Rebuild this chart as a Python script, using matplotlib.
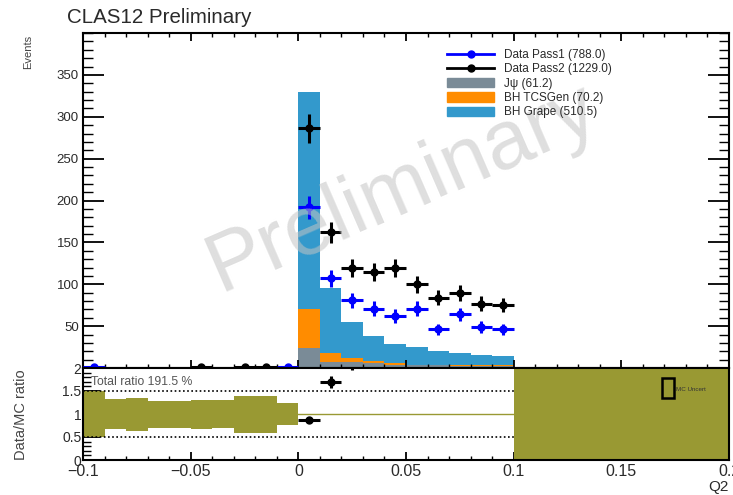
import numpy as np
import matplotlib
matplotlib.use("Agg")
import matplotlib.pyplot as plt
from matplotlib.lines import Line2D
from matplotlib.patches import Patch, Rectangle
from matplotlib.ticker import MultipleLocator, FixedLocator

plt.rcParams['font.family'] = ['Liberation Sans', 'DejaVu Sans']

# binning of Q2 (30 bins of 0.01 from -0.1 to 0.2)
bin_width = 0.01
bin_lo = np.round(np.arange(-0.1, 0.2 - 1e-9, bin_width), 3)
bin_mid = bin_lo + bin_width / 2

zeros10 = [0] * 10
# data counts per bin
pass1 = [1, 0, 0, 0, 0, 0, 0, 0, 0, 1,
         192, 107, 81, 71, 62, 71, 46, 64, 49, 46] + zeros10
pass2 = [0, 0, 0, 0, 0, 1, 0, 1, 1, 0,
         286, 162, 119, 115, 119, 100, 84, 90, 77, 75] + zeros10
# MC stack per bin
jpsi = zeros10 + [24, 7, 7, 5.5, 4, 3, 3, 2.8, 2.5, 2.4] + zeros10
tcsgen = zeros10 + [46, 11, 4.5, 2.5, 1.5, 1, 1, 1, 0.8, 0.7] + zeros10
grape = zeros10 + [260, 78, 44, 30.5, 23.5, 20.6, 16.6, 14, 12.5, 10.9] + zeros10

# MC uncertainty band in the ratio panel
band_lo = [0.5, 0.67, 0.63, 0.69, 0.69, 0.67, 0.69, 0.58, 0.58, 0.76] + [1] * 10 + [0] * 10
band_hi = [1.5, 1.32, 1.34, 1.29, 1.29, 1.30, 1.30, 1.40, 1.40, 1.23] + [1] * 10 + [2.2] * 10

legend_labels = ["Data Pass1 (788.0)", "Data Pass2 (1229.0)", "J\u03c8 (61.2)",
                 "BH TCSGen (70.2)", "BH Grape (510.5)"]
total_ratio = "Total ratio 191.5 %"

c_jpsi = '#7a8b97'
c_tcs = '#ff8c00'
c_grape = '#3399cc'
c_band = '#999933'
c_text = '#2a2a2a'

pass1 = np.array(pass1, float)
pass2 = np.array(pass2, float)
jpsi = np.array(jpsi, float)
tcsgen = np.array(tcsgen, float)
grape = np.array(grape, float)
mc = jpsi + tcsgen + grape

W, H = 733, 495
fig = plt.figure(figsize=(W / 100, H / 100), dpi=100)
x0, x1 = 83, 729
ax = fig.add_axes([x0 / W, 1 - 368 / H, (x1 - x0) / W, 335 / H])
axr = fig.add_axes([x0 / W, 1 - 460 / H, (x1 - x0) / W, 92 / H], sharex=ax)

# ---- main panel: stacked MC + data
ax.bar(bin_lo, jpsi, width=bin_width, align='edge', color=c_jpsi, lw=0, zorder=1)
ax.bar(bin_lo, tcsgen, width=bin_width, bottom=jpsi, align='edge', color=c_tcs, lw=0, zorder=1)
ax.bar(bin_lo, grape, width=bin_width, bottom=jpsi + tcsgen, align='edge', color=c_grape, lw=0, zorder=1)

for vals, col in [(pass1, 'blue'), (pass2, 'black')]:
    m = vals > 0
    ax.errorbar(bin_mid[m], vals[m], yerr=np.sqrt(vals[m]), xerr=bin_width / 2,
                fmt='o', ms=5, color=col, ecolor=col, elinewidth=2.2, capsize=0, zorder=3)

ax.text(-0.0365, 92, "Preliminary", fontsize=60, color='#c4c4c4', alpha=0.55,
        rotation=23.5, rotation_mode='anchor', ha='left', va='baseline', zorder=5)

ax.set_xlim(-0.1, 0.2)
ax.set_ylim(0, 400)
ax.yaxis.set_major_locator(FixedLocator([50, 100, 150, 200, 250, 300, 350]))
ax.yaxis.set_minor_locator(MultipleLocator(10))
ax.xaxis.set_major_locator(MultipleLocator(0.05))
ax.xaxis.set_minor_locator(MultipleLocator(0.01))
ax.tick_params(axis='both', which='both', direction='in', top=True, right=True,
               labelbottom=False, colors='black', labelcolor=c_text)
ax.tick_params(axis='y', which='major', length=15, width=1.3, labelsize=9.5, pad=3)
ax.tick_params(axis='y', which='minor', length=7.5, width=1)
ax.tick_params(axis='x', which='major', length=5.5, width=1.3)
ax.tick_params(axis='x', which='minor', length=3, width=1)
for s in ax.spines.values():
    s.set_linewidth(1.5)

handles = [
    Line2D([], [], color='blue', marker='o', ms=5, lw=2),
    Line2D([], [], color='black', marker='o', ms=5, lw=2),
    Patch(color=c_jpsi), Patch(color=c_tcs), Patch(color=c_grape),
]
fig.legend(handles, legend_labels, loc='upper left', bbox_to_anchor=(447 / W, 1 - 49 / H),
           frameon=False, fontsize=8.5, handlelength=4.0, handleheight=0.85,
           handletextpad=0.8, labelspacing=0.2, borderpad=0, borderaxespad=0,
           labelcolor=c_text)

# ---- ratio panel
axr.hlines(1, -0.1, 0.1, color=c_band, lw=1, zorder=1)
band_lo = np.array(band_lo)
band_hi = np.array(band_hi)
axr.bar(bin_lo, band_hi - band_lo, bottom=band_lo, width=bin_width, align='edge',
        color=c_band, lw=0, zorder=2)
axr.hlines([0.5, 1.5], -0.1, 0.1, color='black', lw=1.2, linestyles=(0, (1, 1.5)), zorder=3)

m = mc > 0
ratio = pass2[m] / mc[m]
rerr = np.sqrt(pass2[m]) / mc[m]
axr.errorbar(bin_mid[m], ratio, yerr=rerr, xerr=bin_width / 2, fmt='o', ms=5,
             color='black', elinewidth=2.2, capsize=0, zorder=4)

axr.text(-0.0965, 1.70, total_ratio, fontsize=8.8, color='#555555', ha='left', va='center', zorder=5)
axr.add_patch(Rectangle((0.896, 0.677), 0.0186, 0.214, transform=axr.transAxes,
                        facecolor=c_band, edgecolor='black', lw=1.8, zorder=6))
axr.text(0.918, 0.77, "MC Uncert", transform=axr.transAxes, fontsize=4.5,
         color='#333333', ha='left', va='center', zorder=6)

axr.set_ylim(0, 2)
axr.yaxis.set_major_locator(MultipleLocator(0.5))
axr.yaxis.set_minor_locator(MultipleLocator(0.1))
axr.yaxis.set_major_formatter(plt.FuncFormatter(lambda v, p: f"{v:g}"))
axr.xaxis.set_major_formatter(plt.FuncFormatter(lambda v, p: "0" if abs(v) < 1e-9 else f"{v:g}".replace('-', '\u2212')))
axr.tick_params(axis='both', which='both', direction='in', right=True, top=False,
                labelcolor=c_text)
axr.tick_params(axis='y', which='major', length=12, width=1.3, labelsize=10, pad=1)
axr.tick_params(axis='y', which='minor', length=6, width=1)
axr.tick_params(axis='x', which='major', length=6, width=1.3, labelsize=11.5, pad=3)
axr.tick_params(axis='x', which='minor', length=3, width=1)
for s in axr.spines.values():
    s.set_linewidth(1.5)

# ---- labels
fig.text(67 / W, 1 - 23 / H, "CLAS12 Preliminary", fontsize=14.8, color=c_text,
         ha='left', va='baseline')
fig.text(28 / W, 1 - 35 / H, "Events", fontsize=8, color='#444444', rotation=90,
         ha='center', va='top')
fig.text(21 / W, 1 - 415 / H, "Data/MC ratio", fontsize=10.5, color='#444444', rotation=90,
         ha='center', va='center')
fig.text(729 / W, 1 - 487 / H, "Q2", fontsize=11, color=c_text, ha='right', va='center')

fig.savefig("out.png", dpi=100)
